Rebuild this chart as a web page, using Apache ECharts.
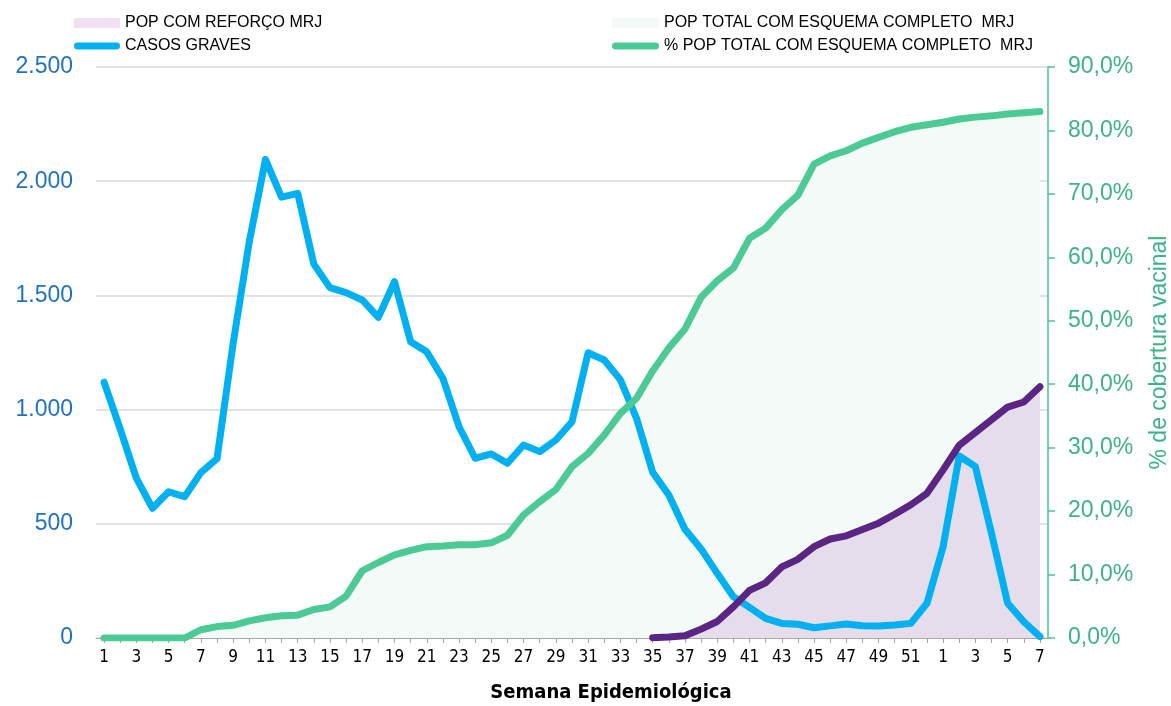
<!DOCTYPE html>
<html>
<head>
<meta charset="utf-8">
<script src="https://cdn.jsdelivr.net/npm/echarts@6/dist/echarts.min.js"></script>
<style>
  html, body { margin: 0; padding: 0; background: #ffffff; }
  #chart { width: 1171px; height: 706px; }
</style>
</head>
<body>
<div id="chart"></div>
<script>
// Epidemiological weeks: 1..52 of the first year, then 1..7 of the next
const weeks = [
  '1','2','3','4','5','6','7','8','9','10','11','12','13','14','15','16','17','18','19','20',
  '21','22','23','24','25','26','27','28','29','30','31','32','33','34','35','36','37','38','39','40',
  '41','42','43','44','45','46','47','48','49','50','51','52',
  '1','2','3','4','5','6','7'
];

// Severe cases per week (left axis)
const casosGraves = [
  1120, 915, 700, 568, 640, 619, 724, 785, 1290, 1735,
  2095, 1930, 1947, 1637, 1534, 1512, 1480, 1404, 1560, 1297,
  1253, 1137, 925, 787, 806, 765, 845, 816, 867, 947,
  1249, 1217, 1130, 962, 726, 626, 476, 390, 283, 181,
  134, 86, 64, 60, 45, 53, 61, 54, 53, 57,
  64, 152, 400, 797, 750, 458, 152, 71, 6
];

// % of total population with complete schedule (right axis)
const pctEsquemaCompleto = [
  0, 0, 0, 0, 0, 0, 1.3, 1.8, 2.0, 2.7,
  3.2, 3.5, 3.6, 4.5, 4.9, 6.6, 10.6, 11.9, 13.1, 13.8,
  14.4, 14.5, 14.7, 14.7, 15.0, 16.2, 19.4, 21.5, 23.4, 27.0,
  29.1, 32.0, 35.4, 37.8, 42.1, 45.7, 48.7, 53.7, 56.3, 58.3,
  63.0, 64.6, 67.5, 69.8, 74.7, 76.0, 76.8, 78.0, 78.9, 79.8,
  80.5, 80.9, 81.3, 81.8, 82.1, 82.3, 82.6, 82.8, 83.0
];

// % of population with booster dose (right axis), starting at week 35
const pctReforco = [
  null, null, null, null, null, null, null, null, null, null,
  null, null, null, null, null, null, null, null, null, null,
  null, null, null, null, null, null, null, null, null, null,
  null, null, null, null, 0.05, 0.15, 0.35, 1.4, 2.6, 4.9,
  7.5, 8.7, 11.2, 12.4, 14.4, 15.6, 16.1, 17.1, 18.1, 19.5,
  21.0, 22.8, 26.5, 30.4, 32.4, 34.4, 36.4, 37.2, 39.6
];

const leftTicks = { min: 0, max: 2500, interval: 500 };
const rightTicks = { min: 0, max: 90, interval: 10 };

const C_BLUE = '#00b0f0';
const C_GREEN = '#4bca95';
const C_PURPLE = '#5b2583';
const C_GREEN_AREA = '#f3faf7';
const C_PURPLE_AREA = '#e5dcec';

const lineIcon = 'path://M3.5,0 H43.5 A3.5,3.5 0 0 1 43.5,7 H3.5 A3.5,3.5 0 0 1 3.5,0 Z';
const rectIcon = 'path://M0,0 H46 V10 H0 Z';

const N_REF = 'POP COM REFORÇO MRJ';
const N_TOT = 'POP TOTAL COM ESQUEMA COMPLETO  MRJ';
const N_CASOS = 'CASOS GRAVES';
const N_PCT = '% POP TOTAL COM ESQUEMA COMPLETO  MRJ';

function thousands(v) {
  return String(v).replace(/\B(?=(\d{3})+(?!\d))/g, '.');
}

const chart = echarts.init(document.getElementById('chart'), null, { renderer: 'canvas' });

const legendText = { color: '#000000', fontSize: 16, fontFamily: 'Liberation Sans, Arial, sans-serif' };
const narrowFont = 'Liberation Sans Narrow, DejaVu Sans Condensed, Liberation Sans, Arial, sans-serif';

chart.setOption({
  animation: false,
  backgroundColor: '#ffffff',
  legend: [
    {
      left: 69, top: 10, orient: 'vertical',
      itemWidth: 46, itemHeight: 14, itemGap: 7,
      selectedMode: false,
      textStyle: legendText,
      data: [
        { name: N_REF, icon: rectIcon, itemStyle: { color: '#f0e0f2' } },
        { name: N_CASOS, icon: lineIcon, itemStyle: { color: C_BLUE } }
      ]
    },
    {
      left: 607, top: 10, orient: 'vertical',
      itemWidth: 47, itemHeight: 14, itemGap: 7,
      selectedMode: false,
      textStyle: legendText,
      data: [
        { name: N_TOT, icon: rectIcon, itemStyle: { color: '#f2f9f6' } },
        { name: N_PCT, icon: lineIcon, itemStyle: { color: C_GREEN } }
      ]
    }
  ],
  grid: { left: 96, right: 123, top: 67, bottom: 68, outerBoundsMode: 'none', containLabel: false },
  xAxis: {
    type: 'category',
    data: weeks,
    boundaryGap: true,
    name: 'Semana Epidemiológica',
    nameLocation: 'middle',
    nameGap: 45,
    nameTextStyle: {
      color: '#000000', fontSize: 20, fontWeight: 'bold', fontFamily: narrowFont,
      padding: [0, 0, 0, 78]
    },
    axisLine: { show: true, lineStyle: { color: '#a6a6a6', width: 1 } },
    axisTick: { show: true, interval: 0, alignWithLabel: true, length: 5, lineStyle: { color: '#a6a6a6' } },
    axisLabel: {
      interval: 1, margin: 11, color: '#000000', fontSize: 17, fontFamily: narrowFont
    },
    splitLine: { show: false }
  },
  yAxis: [
    {
      type: 'value',
      min: leftTicks.min, max: leftTicks.max, interval: leftTicks.interval,
      axisLine: { show: false },
      axisTick: { show: false },
      axisLabel: {
        margin: 23, color: '#1f72bd', fontSize: 23,
        fontFamily: 'Liberation Sans, Arial, sans-serif',
        formatter: (v) => thousands(v)
      },
      splitLine: { show: true, lineStyle: { color: '#d9d9d9', width: 1.5 } }
    },
    {
      type: 'value',
      position: 'right',
      min: rightTicks.min, max: rightTicks.max, interval: rightTicks.interval,
      name: '% de cobertura vacinal',
      nameLocation: 'middle',
      nameRotate: 90,
      nameGap: 100,
      nameTextStyle: { color: '#3cb382', fontSize: 23, fontFamily: 'Liberation Sans, Arial, sans-serif' },
      axisLine: { show: true, lineStyle: { color: '#4bc291', width: 1.5 } },
      axisTick: { show: true, inside: false, length: 7, lineStyle: { color: '#4bc291', width: 1.5 } },
      axisLabel: {
        margin: 20, color: '#3cb382', fontSize: 23,
        fontFamily: 'Liberation Sans, Arial, sans-serif',
        formatter: (v) => v.toFixed(1).replace('.', ',') + '%'
      },
      splitLine: { show: false }
    }
  ],
  series: [
    {
      name: N_TOT, type: 'line', yAxisIndex: 1, data: pctEsquemaCompleto,
      showSymbol: false, silent: true, z: 1,
      lineStyle: { width: 0, color: C_GREEN_AREA },
      itemStyle: { color: C_GREEN_AREA },
      areaStyle: { color: C_GREEN_AREA, opacity: 1 }
    },
    {
      name: N_REF, type: 'line', yAxisIndex: 1, data: pctReforco,
      showSymbol: false, silent: true, z: 2,
      lineStyle: { width: 0, color: C_PURPLE_AREA },
      itemStyle: { color: C_PURPLE_AREA },
      areaStyle: { color: C_PURPLE_AREA, opacity: 1 }
    },
    {
      name: N_CASOS, type: 'line', yAxisIndex: 0, data: casosGraves,
      showSymbol: false, z: 3,
      itemStyle: { color: C_BLUE },
      lineStyle: { width: 7, color: C_BLUE, cap: 'round', join: 'round' }
    },
    {
      name: N_PCT, type: 'line', yAxisIndex: 1, data: pctEsquemaCompleto,
      showSymbol: false, z: 4,
      itemStyle: { color: C_GREEN },
      lineStyle: { width: 7, color: C_GREEN, cap: 'round', join: 'round' }
    },
    {
      name: '% POP COM REFORÇO MRJ', type: 'line', yAxisIndex: 1, data: pctReforco,
      showSymbol: false, z: 5,
      itemStyle: { color: C_PURPLE },
      lineStyle: { width: 7, color: C_PURPLE, cap: 'round', join: 'round' }
    }
  ]
});
</script>
</body>
</html>
